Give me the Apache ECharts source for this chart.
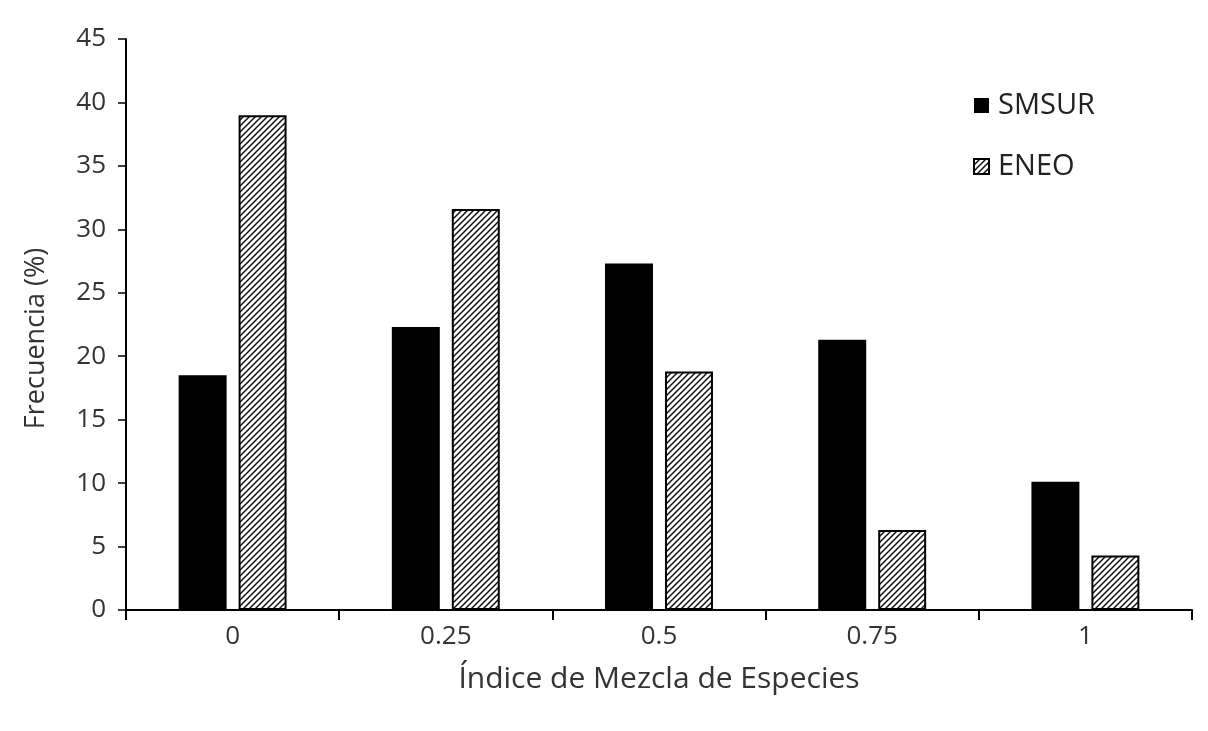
<!DOCTYPE html>
<html>
<head>
<meta charset="utf-8">
<script src="https://cdn.jsdelivr.net/npm/echarts@6/dist/echarts.min.js"></script>
<style>
  html, body { margin: 0; padding: 0; background: #fff; }
  #chart { width: 1208px; height: 731px; }
</style>
</head>
<body>
<div id="chart"></div>
<script>
var categories = ['0', '0.25', '0.5', '0.75', '1'];
var smsur = [18.5, 22.3, 27.3, 21.3, 10.1];
var eneo = [39.0, 31.6, 18.8, 6.3, 4.3];

// diagonal hatch for ENEO
function hatch() {
  var c = document.createElement('canvas');
  c.width = 6; c.height = 6;
  var g = c.getContext('2d');
  g.fillStyle = '#fff';
  g.fillRect(0, 0, 6, 6);
  g.strokeStyle = '#111';
  g.lineWidth = 1.5;
  g.beginPath();
  g.moveTo(-1, 7); g.lineTo(7, -1);
  g.moveTo(-4, 4); g.lineTo(4, -4);
  g.moveTo(2, 10); g.lineTo(10, 2);
  g.stroke();
  return c;
}

var chart = echarts.init(document.getElementById('chart'));
chart.setOption({
  animation: false,
  backgroundColor: '#fff',
  grid: { left: 126, right: 16, top: 39, bottom: 121 },
  legend: {
    orient: 'vertical',
    left: 968,
    top: 86,
    itemGap: 32,
    itemWidth: 15,
    itemHeight: 15,
    icon: 'rect',
    textStyle: { fontFamily: 'Open Sans', fontSize: 29, lineHeight: 29, color: '#222', padding: [0, 0, 0, 4] },
    data: ['SMSUR', 'ENEO']
  },
  xAxis: {
    type: 'category',
    data: categories,
    name: 'Índice de Mezcla de Especies',
    nameLocation: 'middle',
    nameGap: 54,
    nameTextStyle: { fontFamily: 'Open Sans', fontSize: 30, color: '#333' },
    axisLine: { lineStyle: { color: '#000', width: 2 } },
    axisTick: { show: true, length: 10, inside: false, lineStyle: { color: '#000', width: 2 } },
    axisLabel: { fontFamily: 'Open Sans', fontSize: 26, color: '#333', margin: 14 }
  },
  yAxis: {
    type: 'value',
    min: 0,
    max: 45,
    interval: 5,
    name: 'Frecuencia (%)',
    nameLocation: 'middle',
    nameGap: 76,
    nameTextStyle: { fontFamily: 'Open Sans', fontSize: 27, color: '#333', padding: [0, 28, 0, 0] },
    axisLine: { show: true, lineStyle: { color: '#000', width: 2 } },
    axisTick: { show: true, length: 8, lineStyle: { color: '#000', width: 1.5 } },
    axisLabel: { fontFamily: 'Open Sans', fontSize: 26, color: '#333', margin: 20 },
    splitLine: { show: false }
  },
  series: [
    {
      name: 'SMSUR',
      type: 'bar',
      data: smsur,
      barWidth: '22.5%',
      barGap: '25%',
      itemStyle: { color: '#000' }
    },
    {
      name: 'ENEO',
      type: 'bar',
      data: eneo,
      barWidth: '22.5%',
      itemStyle: {
        color: { image: hatch(), repeat: 'repeat' },
        borderColor: '#000',
        borderWidth: 2
      }
    }
  ]
});
</script>
</body>
</html>
